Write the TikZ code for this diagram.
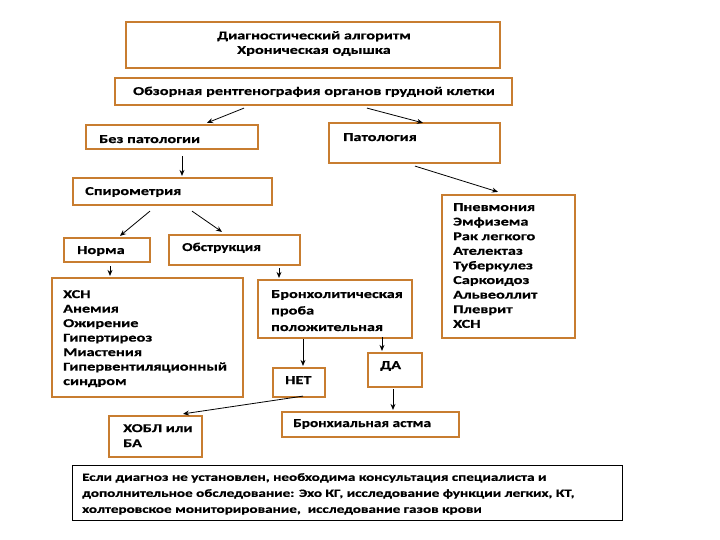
\documentclass[tikz,border=0pt]{standalone}
\usepackage{fontspec}
\setmainfont{Carlito}[FakeStretch=1.36, BoldFeatures={FakeBold=0.6}]
\newfontfamily\narrowfont{Carlito}[FakeStretch=1.28, BoldFeatures={FakeBold=0.6}]
\usetikzlibrary{arrows.meta}
\definecolor{boxc}{RGB}{200,125,48}
\tikzset{
  box/.style={draw=boxc, line width=2.2pt, fill=white, inner sep=0pt, rectangle},
  notebox/.style={draw=black, line width=0.8pt, fill=white, inner sep=0pt, rectangle},
  txt/.style={inner sep=0pt, font=\bfseries\fontsize{12}{14.5}\selectfont, align=left},
  arr/.style={draw=black, line width=0.8pt, -{Stealth[length=6pt,width=5pt]}},
}
\newcommand\bx[6][box]{\node[#1, minimum width={#5pt-#3pt}, minimum height={#6pt-#4pt}] (#2) at ({(#3+#5)/2},{(#4+#6)/2}) {};}
\begin{document}
\begin{tikzpicture}[x=1pt,y=-1pt]
\useasboundingbox[fill=white] (0,0) rectangle (720,540);
% boxes
\bx{title}{126}{22}{500}{68}
\bx{obz}{115}{78}{512}{105}
\bx{bez}{86}{125}{258}{149}
\bx{pat}{329}{123}{500}{163}
\bx{spi}{73}{178}{272}{205}
\bx{norm}{64}{238}{150}{262}
\bx{obs}{169}{235}{300}{265}
\bx{xsn}{52}{278}{243}{397}
\bx{bron}{258}{280}{412}{338}
\bx{net}{273}{368}{325}{397}
\bx{da}{368}{353}{422}{387}
\bx{ast}{282}{412}{459}{437}
\bx{hobl}{109}{416}{202}{457}
\bx{pnev}{442}{195}{575}{338}
\bx[notebox]{note}{72}{465}{622}{520}
% texts
\node[txt, align=center, anchor=center] (title-t) at (314,43.5) {Диагностический алгоритм\\Хроническая одышка};
\node[txt, anchor=base] (obz-t) at (314,95) {Обзорная рентгенография органов грудной клетки};
\node[txt, anchor=base west] (bez-t) at (99,143) {Без патологии};
\node[txt, anchor=base west] (pat-t) at (343,141) {Патология};
\node[txt, anchor=base west] (spi-t) at (85,195) {Спирометрия};
\node[txt, anchor=base west] (norm-t) at (77,254) {Норма};
\node[txt, anchor=base west, font=\narrowfont\bfseries\fontsize{12}{14.5}\selectfont] (obs-t) at (182,251) {Обструкция};
\node[txt, anchor=north west] (xsn-t) at (63,290) {ХСН\\Анемия\\Ожирение\\Гипертиреоз\\Миастения\\Гипервентиляционный\\синдром};
\node[txt, anchor=north west, font=\bfseries\fontsize{12}{16.5}\selectfont] (bron-t) at (271,290) {Бронхолитическая\\проба\\положительная};
\node[txt, anchor=base west] (net-t) at (285,384) {НЕТ};
\node[txt, anchor=base west] (da-t) at (380,369) {ДА};
\node[txt, anchor=base west, font=\narrowfont\bfseries\fontsize{12}{14.5}\selectfont] (ast-t) at (293,427) {Бронхиальная астма};
\node[txt, anchor=north west, font=\bfseries\fontsize{12}{15}\selectfont] (hobl-t) at (123,424) {ХОБЛ или\\БА};
\node[txt, anchor=north west, font=\bfseries\fontsize{12}{14.6}\selectfont] (pnev-t) at (453,203) {Пневмония\\Эмфизема\\Рак легкого\\Ателектаз\\Туберкулез\\Саркоидоз\\Альвеоллит\\Плеврит\\ХСН};
\node[txt, anchor=north west, font=\bfseries\fontsize{11.15}{16}\selectfont] (note-t) at (82,473) {Если диагноз не установлен, необходима консультация специалиста и\\дополнительное обследование: Эхо КГ, исследование функции легких, КТ,\\холтеровское мониторирование,\ \ исследование газов крови};
% arrows
\draw[arr] ([shift={(-69.5,2)}]obz.south) -- ([shift={(35,-1)}]bez.north);
\draw[arr] ([shift={(53.5,2)}]obz.south) -- ([shift={(8.5,1)}]pat.north);
\draw[arr] ([shift={(10,6)}]bez.south) -- ([shift={(9.5,-1)}]spi.north);
\draw[arr] ([shift={(0.5,2)}]pat.south) -- ([shift={(-10.5,-2)}]pnev.north);
\draw[arr] ([shift={(-22.5,5)}]spi.south) -- ([shift={(13,-1)}]norm.north);
\draw[arr] ([shift={(19.5,5)}]spi.south) -- ([shift={(-12.5,-2)}]obs.north);
\draw[arr] ([shift={(3,3)}]norm.south) -- ([shift={(-37.5,-1)}]xsn.north);
\draw[arr] ([shift={(44.5,2)}]obs.south) -- ([shift={(-56,-1)}]bron.north);
\draw[arr] ([shift={(-32,0)}]bron.south) -- ([shift={(4,-1)}]net.north);
\draw[arr] ([shift={(47,-2)}]bron.south) -- ([shift={(-13,-1)}]da.north);
\draw[arr] ([shift={(-2,1)}]da.south) -- ([shift={(22.5,-1)}]ast.north);
\draw[arr] ([shift={(4,-2)}]net.south) -- ([shift={(27.5,-1)}]hobl.north);
\end{tikzpicture}
\end{document}
